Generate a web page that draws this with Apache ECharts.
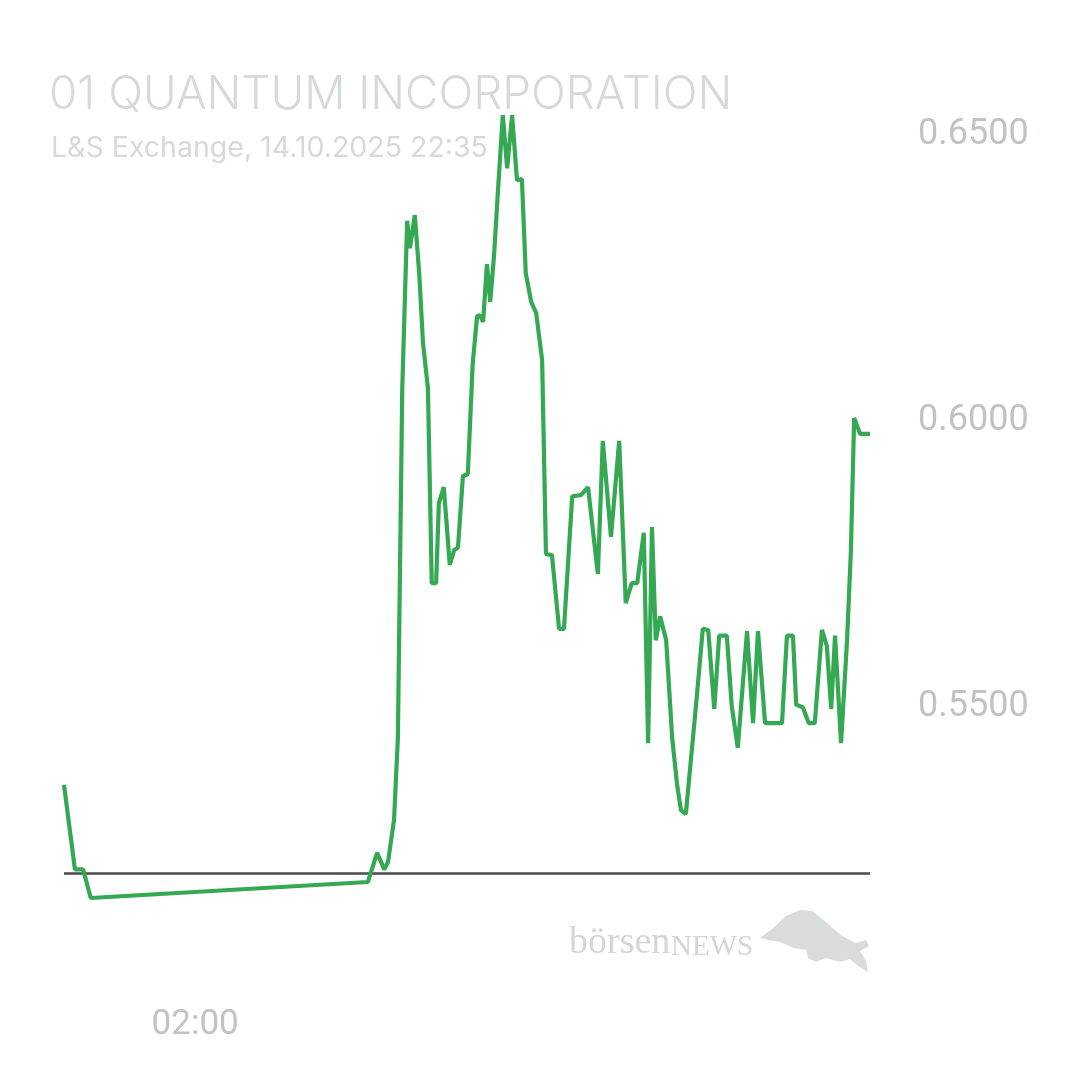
<!DOCTYPE html>
<html>
<head>
<meta charset="utf-8">
<script src="https://cdn.jsdelivr.net/npm/echarts@6/dist/echarts.min.js"></script>
<style>
html,body{margin:0;padding:0;background:#fff;}
#c{width:1080px;height:1080px;}
</style>
</head>
<body>
<div id="c"></div>
<script>
const titleText = '01 QUANTUM INCORPORATION';
const subtitleText = 'L&S Exchange, 14.10.2025 22:35';
const times = ['22:00','22:20','22:35','22:49','07:16','07:33','07:46','07:53','08:04','08:11','08:19','08:28','08:33','08:42','08:50','08:57','09:06','09:13','09:21','09:26','09:35','09:46','09:54','10:01','10:10','10:19','10:28','10:36','10:41','10:47','10:54','11:00','11:07','11:14','11:23','11:31','11:40','11:49','11:58','12:05','12:15','12:24','12:35','12:42','12:53','13:06','13:15','13:30','13:46','13:59','14:17','14:26','14:41','14:56','15:08','15:19','15:29','15:41','15:49','15:56','16:03','16:11','16:22','16:33','16:42','16:49','16:58','17:18','17:29','17:39','17:50','17:59','18:13','18:22','18:33','18:50','19:01','19:10','19:23','19:54','20:03','20:14','20:20','20:32','20:43','20:54','21:07','21:16','21:24','21:31','21:42','21:53','22:00','22:06','22:17','22:35'];
const prices = [0.5355,0.5207,0.5207,0.5157,0.5185,0.5236,0.5207,0.5220,0.5294,0.5437,0.6048,0.6342,0.6294,0.6352,0.6251,0.6128,0.6049,0.5708,0.5708,0.5848,0.5876,0.5740,0.5766,0.5770,0.5895,0.5899,0.6093,0.6175,0.6177,0.6165,0.6266,0.6200,0.6282,0.6392,0.6527,0.6434,0.6527,0.6413,0.6415,0.6251,0.6200,0.6181,0.6098,0.5759,0.5757,0.5628,0.5628,0.5860,0.5862,0.5876,0.5724,0.5957,0.5789,0.5957,0.5673,0.5708,0.5708,0.5796,0.5428,0.5806,0.5608,0.5650,0.5608,0.5437,0.5355,0.5311,0.5304,0.5509,0.5628,0.5626,0.5488,0.5616,0.5616,0.5493,0.5420,0.5624,0.5463,0.5624,0.5463,0.5463,0.5616,0.5616,0.5495,0.5491,0.5463,0.5463,0.5626,0.5598,0.5488,0.5616,0.5428,0.5608,0.5763,0.5997,0.5969,0.5969];
const prevClose = 0.5211;
const yTickLabels = [0.55, 0.60, 0.65];
const xTickLabels = ['02:00'];

// convert clock strings to continuous hours (day rolls over when clock goes back)
function toHours(list){
  let day = 0, prev = -1, out = [];
  for (const t of list){
    const [h,m] = t.split(':').map(Number);
    let v = h + m/60;
    if (v < prev) day++;
    prev = v;
    out.push(v + 24*day);
  }
  return out;
}
const xs = toHours(times);
const data = xs.map((x,i)=>[x, prices[i]]);
const xLabelVals = xTickLabels.map(t => { const [h,m]=t.split(':').map(Number); return h + m/60 + 24; });

const chart = echarts.init(document.getElementById('c'), null, {renderer:'canvas'});
chart.setOption({
  backgroundColor: '#ffffff',
  animation: false,
  title: [
    {text: titleText, left: 44, top: 67.5, textStyle:{fontFamily:'Inter', fontWeight: 300, fontSize: 45.8, color:'#d6d9dc'}},
    {text: subtitleText, left: 46, top: 129, textStyle:{fontFamily:'Inter', fontWeight: 400, fontSize: 28.5, color:'#d6d9dc'}}
  ],
  grid: {left: 64, right: 210, top: 73.35, bottom: 149.4},
  xAxis: {
    type: 'value',
    min: xs[0], max: xs[xs.length-1],
    axisLine:{show:false}, axisTick:{show:false}, splitLine:{show:false},
    axisLabel: {
      customValues: xLabelVals,
      margin: 77,
      fontFamily: 'Roboto', fontSize: 35, color: '#bfc3c7',
      formatter: function(v){ const h = Math.floor(v % 24 + 1e-6); const m = Math.round((v - Math.floor(v))*60); return String(h).padStart(2,'0')+':'+String(m).padStart(2,'0'); }
    }
  },
  yAxis: {
    type: 'value', position: 'right',
    min: 0.51, max: 0.66,
    axisLine:{show:false}, axisTick:{show:false}, splitLine:{show:false},
    axisLabel: {
      customValues: yTickLabels,
      margin: 48,
      fontFamily: 'Roboto', fontSize: 36, color: '#bfc3c7',
      formatter: v => '{p|' + v.toFixed(4) + '}',
      rich: { p: { fontFamily: 'Roboto', fontSize: 36, color: '#bfc3c7', padding: [9,0,0,0] } }
    }
  },
  graphic: [
    {type:'text', left: 569, top: 924, style:{text:'börsen', font:'38px "Liberation Serif", serif', fill:'#d3d6d9'}},
    {type:'text', left: 671, top: 933, style:{text:'NEWS', font:'29px "Liberation Serif", serif', fill:'#d3d6d9'}},
    {type:'polygon', shape:{points:[[760,938],[772,929],[786,916],[800,910],[812,911],[826,922],[842,936],[856,943],[866,940],[869,946],[860,951],[866,961],[868,972],[858,966],[850,959],[840,962],[826,958],[816,962],[808,958],[806,950],[794,948],[780,942],[768,940]]}, style:{fill:'#d9dcdf'}}
  ],
  series: [{
    type: 'line',
    data: data,
    showSymbol: false,
    symbol: 'none',
    lineStyle: {color: '#34a853', width: 4.2},
    z: 3,
    markLine: {
      silent: true, symbol: 'none', label:{show:false},
      lineStyle: {color: '#4a4a4a', width: 2.5, type: 'solid'},
      data: [{yAxis: prevClose}],
      z: 2
    }
  }]
});
</script>
</body>
</html>
